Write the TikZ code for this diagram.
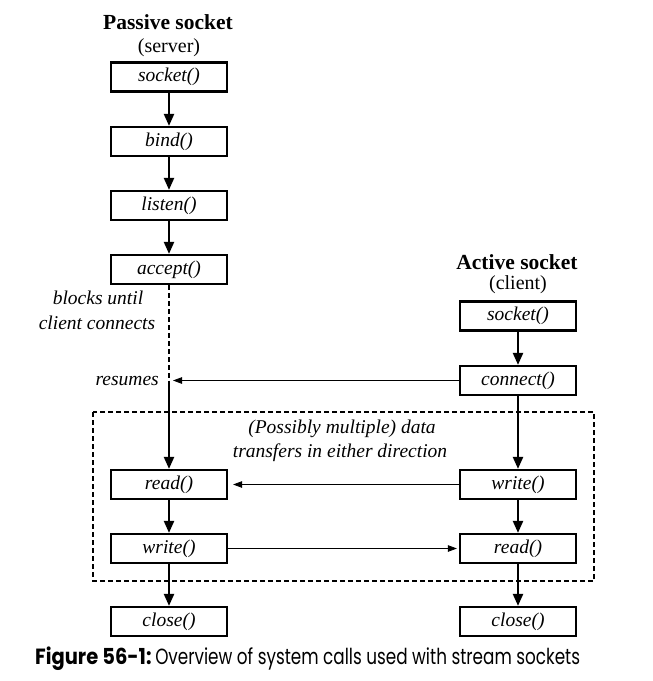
\documentclass[tikz,border=0pt]{standalone}
\usepackage{fontspec}
\setmainfont{Liberation Serif}
\newfontfamily\capfont{Poppins}
\usetikzlibrary{arrows.meta}
\begin{document}
\begin{tikzpicture}[x=1pt,y=-1pt,
  font=\fontsize{19.5}{22}\selectfont,
  callbox/.style={draw, line width=2.2pt, minimum width=116pt, minimum height=29pt, inner sep=0pt, font=\fontsize{19.5}{22}\selectfont\itshape},
  label/.style={inner sep=0pt, font=\fontsize{19.5}{22}\selectfont\itshape},
  title/.style={inner sep=0pt, font=\fontsize{21.5}{24}\selectfont\bfseries},
  sub/.style={inner sep=0pt, font=\fontsize{20}{22}\selectfont},
  flow/.style={line width=2.2pt, -{Triangle[length=12pt,width=10pt]}},
  msg/.style={line width=0.9pt, -{Triangle[length=9pt,width=6.5pt]}},
  dashline/.style={line width=2.2pt, dash pattern=on 5pt off 3pt}
]
\useasboundingbox (0,0) rectangle (653,681);
% left column
\node[title] (ptitle) at (168,22) {Passive socket};
\node[sub] (pserver) at (169,48) {(server)};
\node[callbox] (lsock) at (169,77) {socket()};
\node[callbox] (lbind) at (169,141.5) {bind()};
\node[callbox] (llisten) at (169,205.5) {listen()};
\node[callbox] (laccept) at (169,269.5) {accept()};
\node[callbox] (lread) at (169,484.5) {read()};
\node[callbox] (lwrite) at (169,548.5) {write()};
\node[callbox] (lclose) at (169,621.5) {close()};
% right column
\node[title] (atitle) at (517,262) {Active socket};
\node[sub] (aclient) at (518,285) {(client)};
\node[callbox] (rsock) at (518,316) {socket()};
\node[callbox] (rconn) at (518,380.5) {connect()};
\node[callbox] (rwrite) at (518,484.5) {write()};
\node[callbox] (rread) at (518,548.5) {read()};
\node[callbox] (rclose) at (518,621.5) {close()};
% labels
\node[label] (blocks) at (98,298) {blocks until};
\node[label] (clientc) at (97,323) {client connects};
\node[label, anchor=east] (resumes) at (159,381) {resumes};
\node[label] (poss) at (342,429) {(Possibly multiple) data};
\node[label] (transf) at (340,453) {transfers in either direction};
% dashed region
\draw[dashline] (93,412) rectangle (594,581);
% coordinates
\coordinate (resume) at (169,380.5);
\coordinate (rtip) at (173,380.5);
% flows
\draw[flow] (lsock) -- (lbind);
\draw[flow] (lbind) -- (llisten);
\draw[flow] (llisten) -- (laccept);
\draw[dashline] (laccept.south) -- (resume);
\draw[flow] (resume) -- (lread.north);
\draw[flow] (lread) -- (lwrite);
\draw[flow] (lwrite) -- (lclose);
\draw[flow] (rsock) -- (rconn);
\draw[flow] (rconn) -- (rwrite);
\draw[flow] (rwrite) -- (rread);
\draw[flow] (rread) -- (rclose);
% messages
\draw[msg] (rconn.west) -- (rtip);
\draw[msg, shorten >=5pt] (rwrite.west) -- (lread.east);
\draw[msg, shorten >=2pt] (lwrite.east) -- (rread.west);
% caption
\node[anchor=west, inner sep=0pt] (caption) at (35,659) {\capfont\fontsize{22}{24}\selectfont\scalebox{0.885}[1]{\bfseries Figure 56-1:}\,\scalebox{0.765}[1]{Overview of system calls used with stream sockets}};
\end{tikzpicture}
\end{document}
